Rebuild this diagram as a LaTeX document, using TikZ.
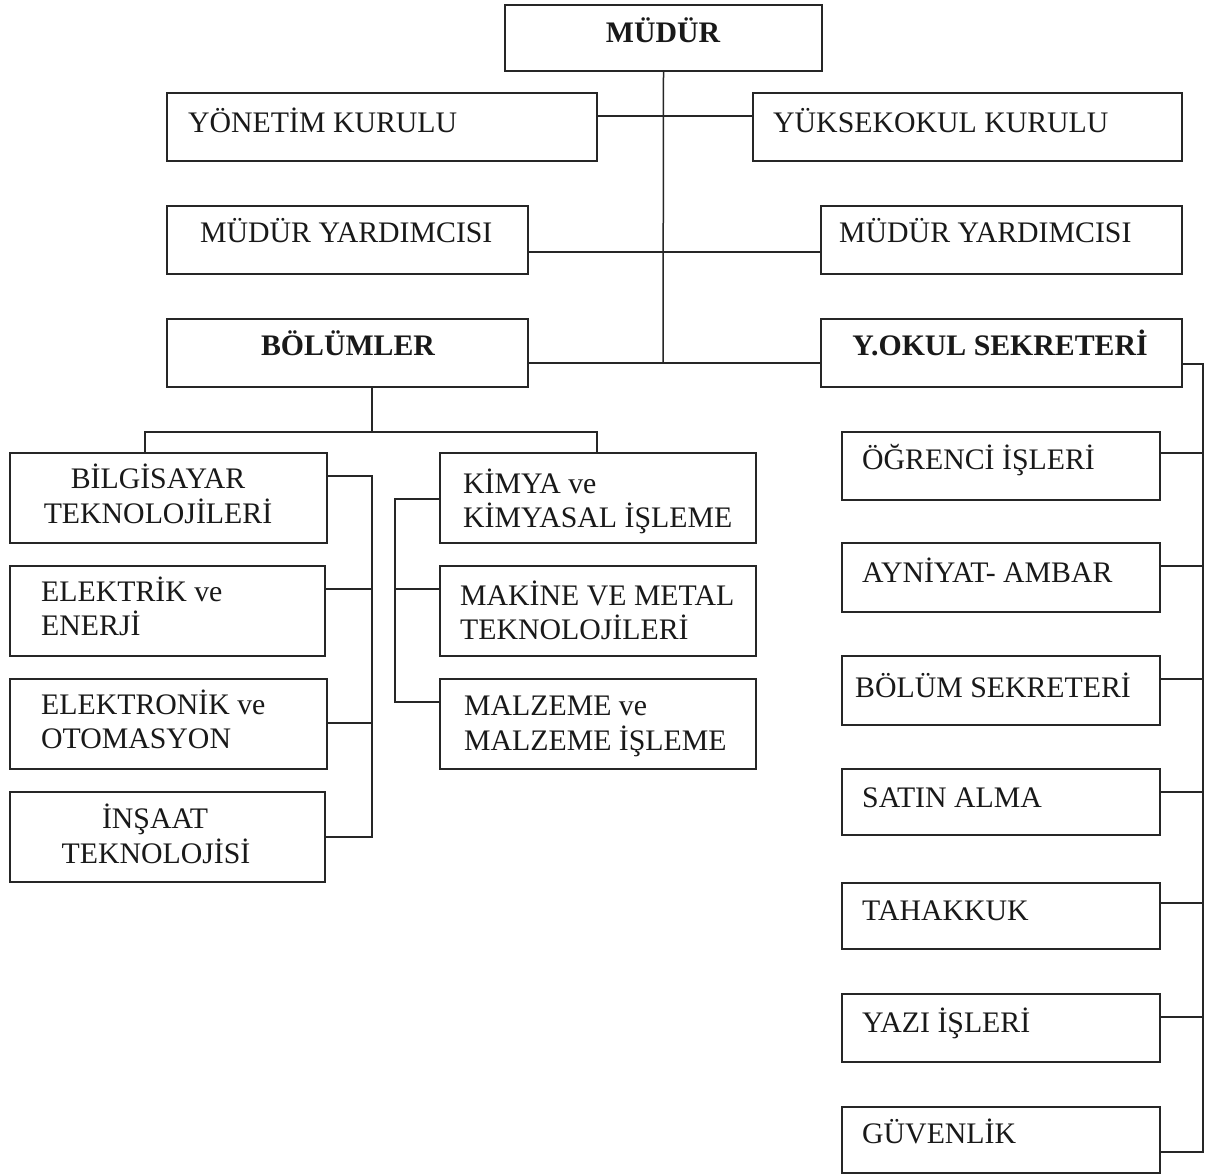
\documentclass[tikz,border=0pt]{standalone}
\usepackage{fontspec}
\setmainfont{Liberation Serif}
\usetikzlibrary{fit}
\begin{document}
\begin{tikzpicture}[x=1pt,y=-1pt,
  box/.style={draw=black!85, line width=1.8pt, inner sep=0pt, rectangle},
  conn/.style={draw=black!85, line width=1.5pt},
  txt/.style={inner sep=0pt, text=black!90, font=\fontsize{29.8}{34}\selectfont},
  btxt/.style={txt, font=\fontsize{29.8}{34}\selectfont\bfseries}]
\useasboundingbox[fill=white] (0,0) rectangle (1212,1175);

% top boxes
\node[box, fit={(505,5) (822,71)}] (mud) {};
\node[box, fit={(167,93) (597,161)}] (yk) {};
\node[box, fit={(753,93) (1182,161)}] (yuk) {};
\node[box, fit={(167,206) (528,274)}] (myl) {};
\node[box, fit={(821,206) (1182,274)}] (myr) {};
\node[box, fit={(167,319) (528,387)}] (bol) {};
\node[box, fit={(821,319) (1182,387)}] (yos) {};

% departments
\node[box, fit={(10,453) (327,543)}] (bil) {};
\node[box, fit={(10,566) (325,656)}] (ele) {};
\node[box, fit={(10,679) (327,769)}] (eln) {};
\node[box, fit={(10,792) (325,882)}] (ins) {};
\node[box, fit={(440,453) (756,543)}] (kim) {};
\node[box, fit={(440,566) (756,656)}] (mak) {};
\node[box, fit={(440,679) (756,769)}] (mal) {};

% secretary units
\node[box, fit={(842,432) (1160,500)}] (ogr) {};
\node[box, fit={(842,543) (1160,612)}] (ayn) {};
\node[box, fit={(842,656) (1160,725)}] (bsk) {};
\node[box, fit={(842,769) (1160,835)}] (sat) {};
\node[box, fit={(842,883) (1160,949)}] (tah) {};
\node[box, fit={(842,994) (1160,1062)}] (yaz) {};
\node[box, fit={(842,1107) (1160,1173)}] (guv) {};

% texts
\node[btxt, anchor=base] at (663,42) {MÜDÜR};
\node[txt, anchor=base west] at (188,132) {YÖNETİM KURULU};
\node[txt, anchor=base west] at (773,132) {YÜKSEKOKUL KURULU};
\node[txt, anchor=base west] at (200,242) {MÜDÜR YARDIMCISI};
\node[txt, anchor=base west] at (839,242) {MÜDÜR YARDIMCISI};
\node[btxt, anchor=base] at (348,355) {BÖLÜMLER};
\node[btxt, anchor=base] at (1000,355) {Y.OKUL SEKRETERİ};

\node[txt, anchor=base] at (158,488) {BİLGİSAYAR};
\node[txt, anchor=base] at (158,523) {TEKNOLOJİLERİ};
\node[txt, anchor=base west] at (41,601) {ELEKTRİK ve};
\node[txt, anchor=base west] at (41,635) {ENERJİ};
\node[txt, anchor=base west] at (41,714) {ELEKTRONİK ve};
\node[txt, anchor=base west] at (41,748) {OTOMASYON};
\node[txt, anchor=base] at (155,828) {İNŞAAT};
\node[txt, anchor=base] at (156,863) {TEKNOLOJİSİ};
\node[txt, anchor=base west] at (463,493) {KİMYA ve};
\node[txt, anchor=base west] at (463,527) {KİMYASAL İŞLEME};
\node[txt, anchor=base west] at (460,605) {MAKİNE VE METAL};
\node[txt, anchor=base west] at (460,639) {TEKNOLOJİLERİ};
\node[txt, anchor=base west] at (464,715) {MALZEME ve};
\node[txt, anchor=base west] at (464,750) {MALZEME İŞLEME};

\node[txt, anchor=base west] at (862,469) {ÖĞRENCİ İŞLERİ};
\node[txt, anchor=base west] at (862,582) {AYNİYAT- AMBAR};
\node[txt, anchor=base west] at (855,697) {BÖLÜM SEKRETERİ};
\node[txt, anchor=base west] at (862,807) {SATIN ALMA};
\node[txt, anchor=base west] at (862,920) {TAHAKKUK};
\node[txt, anchor=base west] at (862,1032) {YAZI İŞLERİ};
\node[txt, anchor=base west] at (862,1143) {GÜVENLİK};

% connectors: top
\coordinate (jb) at (663,363);
\draw[conn] (mud.south) -- (jb);
\draw[conn] (yk.east |- 0,116) -- (yuk.west |- 0,116);
\draw[conn] (myl.east |- 0,252) -- (myr.west |- 0,252);
\draw[conn] (bol.east |- 0,363) -- (yos.west |- 0,363);

% departments tree
\coordinate (dj) at (372,432);
\draw[conn] (bol.south -| dj) -- (dj);
\draw[conn] (bil.north -| 145,0) -- (145,432) -- (597,432) -- (kim.north -| 597,0);
\coordinate (lbT) at (372,476);
\coordinate (lbB) at (372,837);
\draw[conn] (bil.east |- lbT) -- (lbT) -- (lbB) -- (ins.east |- lbB);
\draw[conn] (ele.east |- 0,589) -- (lbT |- 0,589);
\draw[conn] (eln.east |- 0,723) -- (lbT |- 0,723);
\coordinate (rbT) at (395,499);
\coordinate (rbB) at (395,702);
\draw[conn] (kim.west |- rbT) -- (rbT) -- (rbB) -- (mal.west |- rbB);
\draw[conn] (mak.west |- 0,589) -- (rbT |- 0,589);

% secretary tree
\coordinate (sbT) at (1203,364);
\coordinate (sbB) at (1203,1152);
\draw[conn] (yos.east |- sbT) -- (sbT) -- (sbB) -- (guv.east |- sbB);
\draw[conn] (ogr.east |- 0,453) -- (sbT |- 0,453);
\draw[conn] (ayn.east |- 0,566) -- (sbT |- 0,566);
\draw[conn] (bsk.east |- 0,679) -- (sbT |- 0,679);
\draw[conn] (sat.east |- 0,792) -- (sbT |- 0,792);
\draw[conn] (tah.east |- 0,903) -- (sbT |- 0,903);
\draw[conn] (yaz.east |- 0,1017) -- (sbT |- 0,1017);
\end{tikzpicture}
\end{document}
